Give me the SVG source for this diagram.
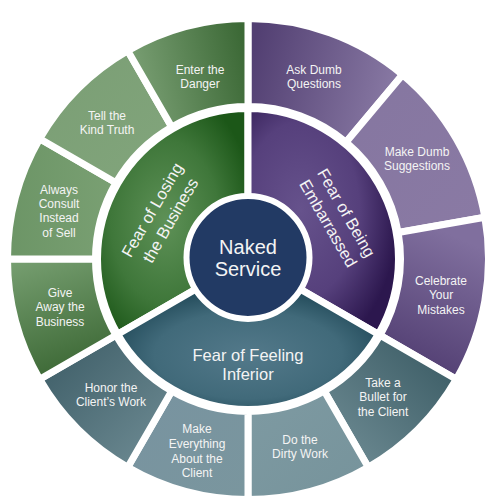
<svg xmlns="http://www.w3.org/2000/svg" width="495" height="504" viewBox="0 0 495 504">
<style>
.seg{stroke:#ffffff;stroke-width:7;stroke-linejoin:miter;stroke-miterlimit:10}
.lbl{font-family:"Liberation Sans",Arial,sans-serif;font-size:12px;fill:#f4f4f4;text-anchor:middle}
.mid{font-family:"Liberation Sans",Arial,sans-serif;font-size:16.5px;fill:#f4f4f4;text-anchor:middle}
.ctr{font-family:"Liberation Sans",Arial,sans-serif;font-size:20px;fill:#f4f4f4;text-anchor:middle}
</style>
<defs>
<linearGradient id="gEnter" x1="0" y1="0.6" x2="1" y2="0.4"><stop offset="0" stop-color="#7da277"/><stop offset="1" stop-color="#3c6936"/></linearGradient>
<linearGradient id="gTell" x1="0" y1="0" x2="1" y2="1"><stop offset="0" stop-color="#7a9e74"/><stop offset="1" stop-color="#82a57c"/></linearGradient>
<linearGradient id="gAlways" x1="0" y1="0" x2="1" y2="0"><stop offset="0" stop-color="#6c9566"/><stop offset="1" stop-color="#7aa073"/></linearGradient>
<linearGradient id="gGive" x1="0" y1="0" x2="0.3" y2="1"><stop offset="0" stop-color="#78a072"/><stop offset="1" stop-color="#3e6a37"/></linearGradient>
<radialGradient id="gGreenMid" cx="0.45" cy="0.5" r="0.6"><stop offset="0" stop-color="#5e9157"/><stop offset="0.6" stop-color="#3f773a"/><stop offset="1" stop-color="#1c5718"/></radialGradient>
<linearGradient id="gAsk" x1="0" y1="0.4" x2="1" y2="0.6"><stop offset="0" stop-color="#523f72"/><stop offset="1" stop-color="#8b7ca6"/></linearGradient>
<linearGradient id="gMakeDumb" x1="0" y1="0" x2="1" y2="1"><stop offset="0" stop-color="#8576a0"/><stop offset="1" stop-color="#8a7aa4"/></linearGradient>
<linearGradient id="gCeleb" x1="0.3" y1="0" x2="0" y2="1"><stop offset="0" stop-color="#806f9e"/><stop offset="1" stop-color="#4a366b"/></linearGradient>
<radialGradient id="gPurpleMid" cx="0.35" cy="0.45" r="0.65"><stop offset="0" stop-color="#66528c"/><stop offset="0.6" stop-color="#56407c"/><stop offset="1" stop-color="#2c174e"/></radialGradient>
<radialGradient id="gTealMid" cx="0.5" cy="0.55" r="0.6"><stop offset="0" stop-color="#53798a"/><stop offset="0.6" stop-color="#416a7a"/><stop offset="1" stop-color="#1b4352"/></radialGradient>
<linearGradient id="gTake" x1="1" y1="0" x2="0" y2="1"><stop offset="0" stop-color="#365760"/><stop offset="1" stop-color="#728f97"/></linearGradient>
<linearGradient id="gDo" x1="0" y1="0" x2="1" y2="1"><stop offset="0" stop-color="#7e9aa2"/><stop offset="1" stop-color="#76939b"/></linearGradient>
<linearGradient id="gMakeEv" x1="0" y1="0" x2="1" y2="1"><stop offset="0" stop-color="#7893a0"/><stop offset="1" stop-color="#7a969e"/></linearGradient>
<linearGradient id="gHonor" x1="0" y1="0" x2="1" y2="1"><stop offset="0" stop-color="#3a5a64"/><stop offset="1" stop-color="#718e96"/></linearGradient>
</defs>
<rect x="0" y="0" width="495" height="504" fill="#ffffff"/>

<g id="mid-green">
<path class="seg" fill="url(#gGreenMid)" d="M 117.66,334.25 A 150.5 150.5 0 0 1 248,108.5 L 248,201 A 58 58 0 0 0 197.77,288 Z"/>
<text class="mid" transform="translate(161,215) rotate(-60)"><tspan x="0" y="-4.5">Fear of Losing</tspan><tspan x="0" y="16.5">the Business</tspan></text>
</g>
<g id="mid-purple">
<path class="seg" fill="url(#gPurpleMid)" d="M 248,108.5 A 150.5 150.5 0 0 1 378.34,334.25 L 298.23,288 A 58 58 0 0 0 248,201 Z"/>
<text class="mid" transform="translate(337.5,218) rotate(60)"><tspan x="0" y="-4.5">Fear of Being</tspan><tspan x="0" y="16.5">Embarrassed</tspan></text>
</g>
<g id="mid-teal">
<path class="seg" fill="url(#gTealMid)" d="M 378.34,334.25 A 150.5 150.5 0 0 1 117.66,334.25 L 197.77,288 A 58 58 0 0 0 298.23,288 Z"/>
<text class="mid" x="248" y="361">Fear of Feeling</text>
<text class="mid" x="248" y="380">Inferior</text>
</g>

<g id="ask">
<path class="seg" fill="url(#gAsk)" d="M 248,18.5 A 240.5 240.5 0 0 1 402.59,74.78 L 346.03,142.18 A 152.5 152.5 0 0 0 248,106.5 Z"/>
<text class="lbl" x="314" y="74">Ask Dumb</text><text class="lbl" x="314" y="88">Questions</text>
</g>
<g id="makedumb">
<path class="seg" fill="url(#gMakeDumb)" d="M 402.59,74.78 A 240.5 240.5 0 0 1 484.85,217.25 L 398.18,232.53 A 152.5 152.5 0 0 0 346.03,142.18 Z"/>
<text class="lbl" x="417" y="156">Make Dumb</text><text class="lbl" x="417" y="170">Suggestions</text>
</g>
<g id="celebrate">
<path class="seg" fill="url(#gCeleb)" d="M 484.85,217.25 A 240.5 240.5 0 0 1 456.28,379.25 L 380.07,335.25 A 152.5 152.5 0 0 0 398.18,232.53 Z"/>
<text class="lbl" x="441" y="285">Celebrate</text><text class="lbl" x="441" y="299">Your</text><text class="lbl" x="441" y="314">Mistakes</text>
</g>
<g id="take">
<path class="seg" fill="url(#gTake)" d="M 456.28,379.25 A 240.5 240.5 0 0 1 368.25,467.28 L 324.25,391.07 A 152.5 152.5 0 0 0 380.07,335.25 Z"/>
<text class="lbl" x="383" y="387">Take a</text><text class="lbl" x="383" y="401">Bullet for</text><text class="lbl" x="383" y="416">the Client</text>
</g>
<g id="dirty">
<path class="seg" fill="url(#gDo)" d="M 368.25,467.28 A 240.5 240.5 0 0 1 248,499.5 L 248,411.5 A 152.5 152.5 0 0 0 324.25,391.07 Z"/>
<text class="lbl" x="300" y="444">Do the</text><text class="lbl" x="300" y="458">Dirty Work</text>
</g>
<g id="everything">
<path class="seg" fill="url(#gMakeEv)" d="M 248,499.5 A 240.5 240.5 0 0 1 127.75,467.28 L 171.75,391.07 A 152.5 152.5 0 0 0 248,411.5 Z"/>
<text class="lbl" x="197" y="433">Make</text><text class="lbl" x="197" y="448">Everything</text><text class="lbl" x="197" y="463">About the</text><text class="lbl" x="197" y="477">Client</text>
</g>
<g id="honor">
<path class="seg" fill="url(#gHonor)" d="M 127.75,467.28 A 240.5 240.5 0 0 1 39.72,379.25 L 115.93,335.25 A 152.5 152.5 0 0 0 171.75,391.07 Z"/>
<text class="lbl" x="111" y="392">Honor the</text><text class="lbl" x="111" y="406">Client’s Work</text>
</g>
<g id="give">
<path class="seg" fill="url(#gGive)" d="M 39.72,379.25 A 240.5 240.5 0 0 1 7.5,259 L 95.5,259 A 152.5 152.5 0 0 0 115.93,335.25 Z"/>
<text class="lbl" x="60" y="297">Give</text><text class="lbl" x="60" y="311">Away the</text><text class="lbl" x="60" y="326">Business</text>
</g>
<g id="always">
<path class="seg" fill="url(#gAlways)" d="M 7.5,259 A 240.5 240.5 0 0 1 39.72,138.75 L 115.93,182.75 A 152.5 152.5 0 0 0 95.5,259 Z"/>
<text class="lbl" x="59" y="193.5">Always</text><text class="lbl" x="59" y="207.5">Consult</text><text class="lbl" x="59" y="222">Instead</text><text class="lbl" x="59" y="236.5">of Sell</text>
</g>
<g id="tell">
<path class="seg" fill="url(#gTell)" d="M 39.72,138.75 A 240.5 240.5 0 0 1 127.75,50.72 L 171.75,126.93 A 152.5 152.5 0 0 0 115.93,182.75 Z"/>
<text class="lbl" x="107" y="120">Tell the</text><text class="lbl" x="107" y="134">Kind Truth</text>
</g>
<g id="enter">
<path class="seg" fill="url(#gEnter)" d="M 127.75,50.72 A 240.5 240.5 0 0 1 248,18.5 L 248,106.5 A 152.5 152.5 0 0 0 171.75,126.93 Z"/>
<text class="lbl" x="200" y="74">Enter the</text><text class="lbl" x="200" y="88">Danger</text>
</g>

<g id="center">
<circle cx="248" cy="257.5" r="61.5" fill="#223a64" stroke="#ffffff" stroke-width="6"/>
<text class="ctr" x="248" y="254">Naked</text>
<text class="ctr" x="248" y="276">Service</text>
</g>
</svg>
